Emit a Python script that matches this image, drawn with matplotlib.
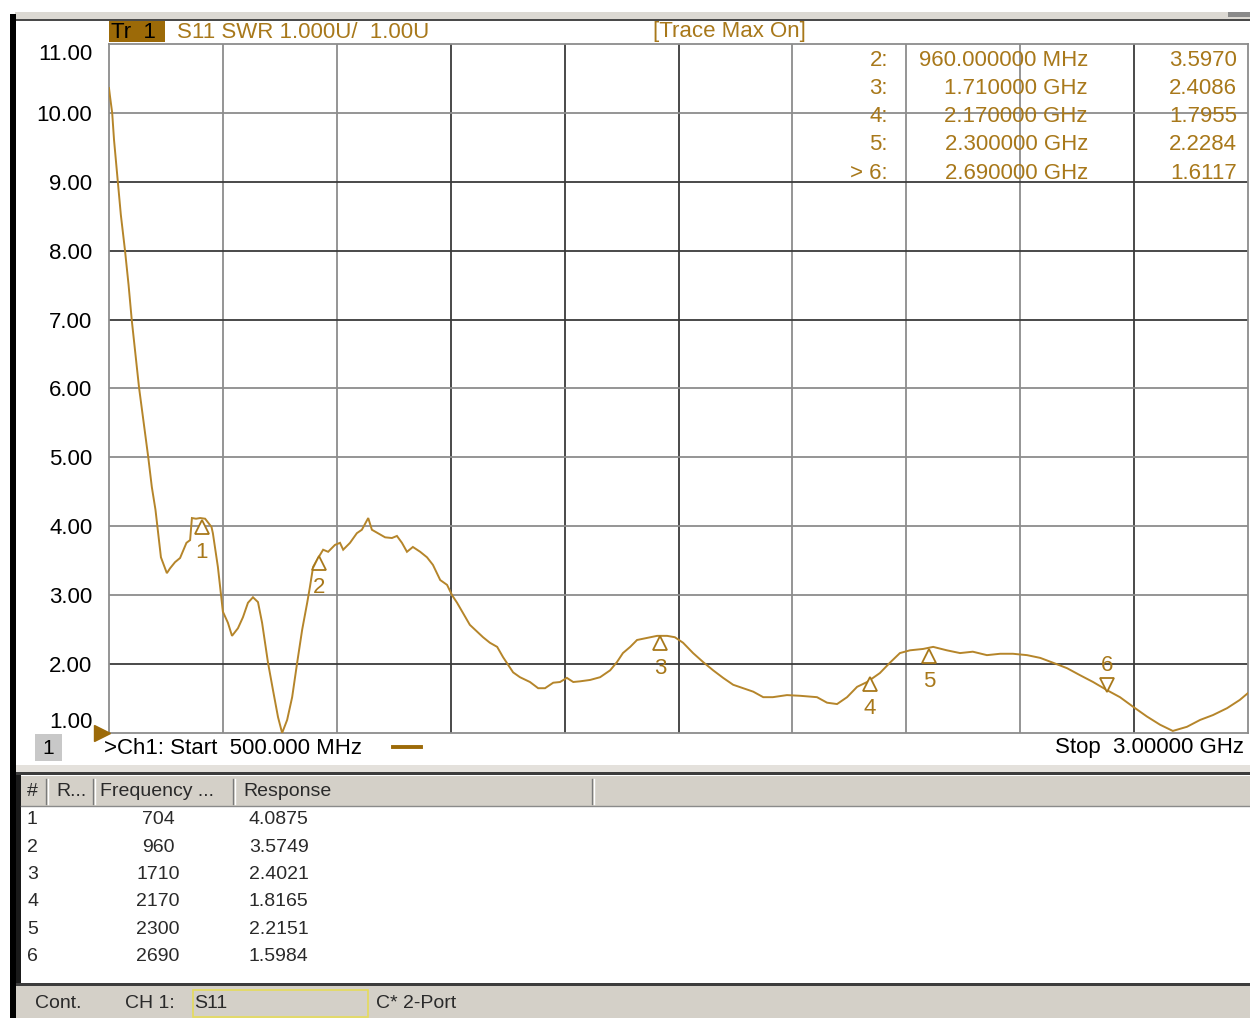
import matplotlib

matplotlib.use("Agg")
import matplotlib.pyplot as plt
from matplotlib.patches import Rectangle
from matplotlib.lines import Line2D
from matplotlib.transforms import blended_transform_factory, offset_copy

plt.rcParams["font.family"] = ["Liberation Sans", "DejaVu Sans"]

W, H = 1250, 1018
GOLD = "#b5852a"
TEXT_GOLD = "#a8781a"
BROWN = "#9c6a08"
PANEL = "#d4d0c8"

# S11 SWR trace (MHz, SWR)
freq_mhz = [
    500, 502, 507, 511, 519, 526, 535, 543, 550, 558, 566, 576, 586, 594, 602,
    608, 614, 627, 634, 645, 656, 670, 678, 682, 691, 700, 711, 725, 728, 739,
    750, 761, 770, 783, 794, 805, 816, 827, 836, 849, 860, 871, 880, 891, 902,
    913, 924, 935, 941, 948, 959, 970, 981, 996, 1007, 1014, 1029, 1044, 1055,
    1064, 1069, 1077, 1090, 1106, 1121, 1132, 1143, 1154, 1167, 1183, 1198,
    1211, 1227, 1242, 1253, 1264, 1277, 1292, 1308, 1321, 1336, 1352, 1365,
    1376, 1387, 1402, 1424, 1442, 1457, 1475, 1490, 1505, 1519, 1534, 1556,
    1578, 1600, 1615, 1628, 1644, 1659, 1681, 1703, 1725, 1742, 1760, 1782,
    1804, 1826, 1848, 1870, 1892, 1914, 1936, 1957, 1988, 2017, 2054, 2076,
    2098, 2120, 2142, 2164, 2192, 2214, 2236, 2258, 2287, 2309, 2339, 2368,
    2396, 2427, 2456, 2484, 2515, 2544, 2572, 2603, 2631, 2660, 2691, 2719,
    2748, 2778, 2807, 2835, 2866, 2895, 2923, 2954, 2982, 3000,
]
swr = [
    10.36, 10.25, 10.00, 9.61, 9.03, 8.52, 8.01, 7.50, 6.99, 6.50, 6.01, 5.51,
    5.01, 4.57, 4.24, 3.90, 3.55, 3.32, 3.39, 3.48, 3.54, 3.76, 3.80, 4.12,
    4.11, 4.12, 4.11, 3.99, 3.90, 3.41, 2.76, 2.60, 2.41, 2.52, 2.68, 2.89,
    2.97, 2.90, 2.60, 2.02, 1.62, 1.23, 1.00, 1.19, 1.52, 2.02, 2.50, 2.89,
    3.12, 3.41, 3.54, 3.66, 3.63, 3.73, 3.76, 3.66, 3.76, 3.90, 3.95, 4.06,
    4.12, 3.95, 3.90, 3.84, 3.83, 3.86, 3.76, 3.63, 3.70, 3.63, 3.55, 3.44,
    3.22, 3.15, 3.00, 2.89, 2.74, 2.57, 2.47, 2.39, 2.31, 2.25, 2.10, 1.99,
    1.88, 1.81, 1.74, 1.65, 1.65, 1.73, 1.74, 1.80, 1.74, 1.75, 1.77, 1.81,
    1.91, 2.03, 2.16, 2.25, 2.35, 2.38, 2.41, 2.41, 2.39, 2.31, 2.16, 2.03,
    1.91, 1.80, 1.70, 1.65, 1.60, 1.52, 1.52, 1.55, 1.54, 1.52, 1.44, 1.42,
    1.52, 1.67, 1.74, 1.87, 2.02, 2.16, 2.20, 2.22, 2.25, 2.20, 2.16, 2.18,
    2.13, 2.15, 2.15, 2.13, 2.09, 2.02, 1.94, 1.84, 1.74, 1.62, 1.52, 1.38,
    1.24, 1.12, 1.03, 1.09, 1.19, 1.26, 1.36, 1.48, 1.58,
]

# marker table (bottom panel)
marker_ids = ["1", "2", "3", "4", "5", "6"]
marker_freq = [704, 960, 1710, 2170, 2300, 2690]
marker_resp = [4.0875, 3.5749, 2.4021, 1.8165, 2.2151, 1.5984]

# on-screen marker readout (top right)
readout_ids = ["2:", "3:", "4:", "5:", "> 6:"]
readout_freq = ["960.000000 MHz", "1.710000 GHz", "2.170000 GHz",
                "2.300000 GHz", "2.690000 GHz"]
readout_val = ["3.5970", "2.4086", "1.7955", "2.2284", "1.6117"]

y_ticks = [1, 2, 3, 4, 5, 6, 7, 8, 9, 10, 11]
x_ticks = [500, 750, 1000, 1250, 1500, 1750, 2000, 2250, 2500, 2750, 3000]
dark_x = [1250, 1500, 1750, 2750]
dark_y = [2, 7, 8, 9]


def fx(x):
    return x / W


def fy(y):
    return 1 - y / H


def box(fig, x0, y0, x1, y1, **kw):
    fig.add_artist(Rectangle((fx(x0), fy(y1)), (x1 - x0) / W, (y1 - y0) / H,
                             transform=fig.transFigure, **kw))


def ftext(fig, x, y, s, **kw):
    kw.setdefault("va", "center")
    fig.text(fx(x), fy(y), s, **kw)


fig = plt.figure(figsize=(W / 100, H / 100), dpi=100)
fig.patch.set_facecolor("white")

# window chrome
box(fig, 15, 12, 1250, 19, facecolor="#dcd9d3", edgecolor="none")
box(fig, 1228, 12, 1250, 17, facecolor="#8a8a8a", edgecolor="none")
box(fig, 15, 19, 1250, 21, facecolor="#4a4a4a", edgecolor="none")
box(fig, 10, 14, 16, 1018, facecolor="black", edgecolor="none")

# plot area
ax = fig.add_axes([fx(109), fy(733), (1248 - 109) / W, (733 - 44) / H])
ax.set_xlim(500, 3000)
ax.set_ylim(1, 11)
ax.set_xticks(x_ticks)
ax.set_xticklabels([])
ax.set_yticks(y_ticks)
ax.set_yticklabels([f"{v:.2f}" for v in y_ticks], fontsize=16)
ax.tick_params(length=0, pad=12)
labels = ax.get_yticklabels()
labels[0].set_verticalalignment("bottom")
labels[-1].set_verticalalignment("top")
for v in x_ticks[1:-1]:
    ax.axvline(v, color="#3a3a3a" if v in dark_x else "#8c8c8c", lw=1.3, zorder=1)
for v in y_ticks[1:-1]:
    ax.axhline(v, color="#3a3a3a" if v in dark_y else "#8c8c8c", lw=1.3, zorder=1)
for sp in ax.spines.values():
    sp.set_color("#8c8c8c")
    sp.set_linewidth(1.3)

ax.plot(freq_mhz, swr, color=GOLD, lw=1.4, zorder=3, solid_joinstyle="miter")

# markers
down = offset_copy(ax.transData, fig=fig, x=0, y=-7, units="dots")
up = offset_copy(ax.transData, fig=fig, x=0, y=7, units="dots")
for mid, f, r in zip(marker_ids, marker_freq, marker_resp):
    if mid == "6":
        ax.plot([f], [r], marker="v", ms=10, mfc="white", mec=TEXT_GOLD, mew=1.3,
                transform=up, zorder=4)
        ax.annotate(mid, (f, r), xytext=(0, 19), textcoords="offset points",
                    ha="center", va="center", fontsize=16, color=TEXT_GOLD)
    else:
        ax.plot([f], [r], marker="^", ms=10, mfc="white", mec=TEXT_GOLD, mew=1.3,
                transform=down, zorder=4)
        ax.annotate(mid, (f, r), xytext=(0, -23), textcoords="offset points",
                    ha="center", va="center", fontsize=16, color=TEXT_GOLD)

# reference level pointer
ref = blended_transform_factory(ax.transAxes, ax.transData)
ax.plot([-0.006], [1.0], marker=">", ms=11, color=BROWN, transform=ref,
        clip_on=False, zorder=5)

# header row
box(fig, 109, 21, 165, 42, facecolor=BROWN, edgecolor="none")
ftext(fig, 111, 32, "Tr  1", fontsize=16, color="black")
ftext(fig, 177, 32, "S11 SWR 1.000U/  1.00U", fontsize=16, color=TEXT_GOLD)
ftext(fig, 653, 32, "[Trace Max On]", fontsize=16, color=TEXT_GOLD)

for i, (a, b, c) in enumerate(zip(readout_ids, readout_freq, readout_val)):
    y = 60 + i * 28.3
    ftext(fig, 888, y, a, fontsize=16, color=TEXT_GOLD, ha="right")
    ftext(fig, 1088, y, b, fontsize=16, color=TEXT_GOLD, ha="right")
    ftext(fig, 1237, y, c, fontsize=16, color=TEXT_GOLD, ha="right")

# footer of plot
box(fig, 35, 734, 62, 761, facecolor="#c8c8c8", edgecolor="none")
ftext(fig, 48.5, 748, "1", fontsize=15, color="black", ha="center")
ftext(fig, 104, 748, ">Ch1: Start  500.000 MHz", fontsize=16, color="black")
fig.add_artist(Line2D([fx(393), fx(421)], [fy(747), fy(747)], color=BROWN, lw=2.8,
                      transform=fig.transFigure))
ftext(fig, 1244, 748, "Stop  3.00000 GHz", fontsize=16, color="black", ha="right")

# marker table panel
box(fig, 16, 765, 1250, 772, facecolor="#e4e1dc", edgecolor="none")
box(fig, 16, 772, 1250, 775, facecolor="#3c3c3c", edgecolor="none")
box(fig, 16, 775, 21, 985, facecolor="#1a1a1a", edgecolor="none")
box(fig, 21, 776, 1250, 806, facecolor=PANEL, edgecolor="none")
box(fig, 21, 806, 1250, 983, facecolor="white", edgecolor="none")
for xs in [46, 93, 233, 592]:
    fig.add_artist(Line2D([fx(xs), fx(xs)], [fy(779), fy(804)], color="#7a7a7a",
                          lw=1.0, transform=fig.transFigure))
    fig.add_artist(Line2D([fx(xs + 2), fx(xs + 2)], [fy(779), fy(804)], color="white",
                          lw=1.0, transform=fig.transFigure))
fig.add_artist(Line2D([fx(21), fx(1250)], [fy(806), fy(806)], color="#8a8a8a", lw=1.0,
                      transform=fig.transFigure))

tfont = dict(fontsize=14, color="#2a2a2a")
ftext(fig, 27, 792, "#", **tfont)
ftext(fig, 56, 792, "R...", **tfont)
ftext(fig, 100, 792, "Frequency ...", **tfont)
ftext(fig, 243, 792, "Response", **tfont)
for i, (mid, f, r) in enumerate(zip(marker_ids, marker_freq, marker_resp)):
    y = 820 + i * 27.3
    ftext(fig, 27, y, mid, **tfont)
    ftext(fig, 158, y, f"{f}", ha="center", **tfont)
    ftext(fig, 249, y, f"{r:.4f}", **tfont)

# status bar
box(fig, 16, 983, 1250, 986, facecolor="#3c3c3c", edgecolor="none")
box(fig, 16, 986, 1250, 1018, facecolor=PANEL, edgecolor="none")
box(fig, 193, 990, 368, 1017, facecolor="none", edgecolor="#e6dc5a", lw=1.2)
ftext(fig, 35, 1004, "Cont.", **tfont)
ftext(fig, 125, 1004, "CH 1:", **tfont)
ftext(fig, 194, 1004, "S11", **tfont)
ftext(fig, 376, 1004, "C* 2-Port", **tfont)

fig.savefig("out.png", dpi=100, facecolor="white")
